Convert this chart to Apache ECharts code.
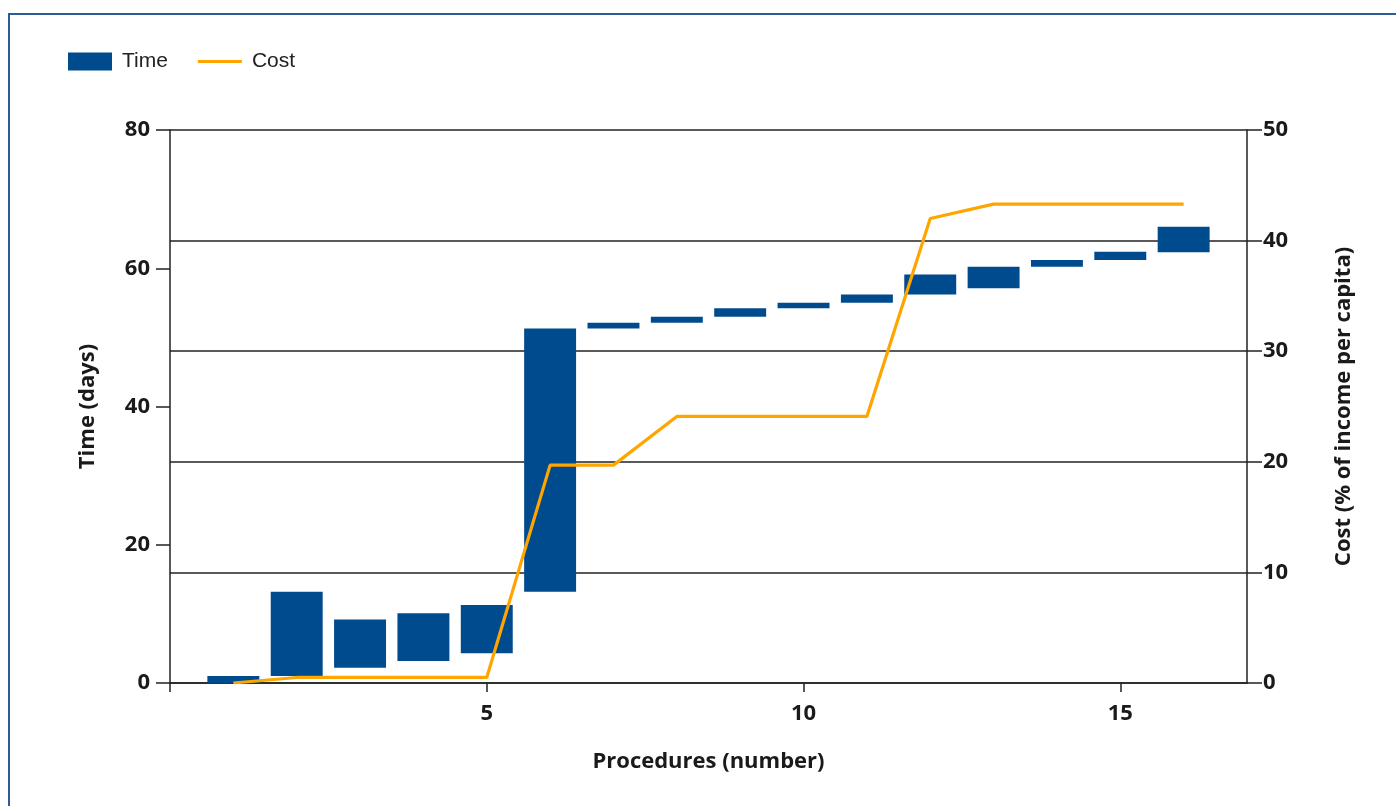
<!DOCTYPE html>
<html>
<head>
<meta charset="utf-8">
<script src="https://cdn.jsdelivr.net/npm/echarts@6/dist/echarts.min.js"></script>
<style>
  html, body { margin: 0; padding: 0; background: #fff; }
  #wrap { position: relative; width: 1396px; height: 806px; overflow: hidden; }
  #frame { position: absolute; left: 8px; top: 13px; width: 1500px; height: 900px;
           border-left: 2px solid #2a5c9c; border-top: 2px solid #2a5c9c; box-sizing: border-box; }
  #chart { position: absolute; left: 0; top: 0; width: 1396px; height: 806px; }
</style>
</head>
<body>
<div id="wrap">
  <div id="frame"></div>
  <div id="chart"></div>
</div>
<script>
const procedures = [1, 2, 3, 4, 5, 6, 7, 8, 9, 10, 11, 12, 13, 14, 15, 16];
const timeStart = [0, 1, 2.2, 3.2, 4.3, 13.2, 51.3, 52.1, 53.0, 54.2, 55.0, 56.2, 57.1, 60.2, 61.2, 62.3];
const timeEnd   = [1, 13.2, 9.2, 10.1, 11.3, 51.3, 52.1, 53.0, 54.2, 55.0, 56.2, 59.1, 60.2, 61.2, 62.4, 66.0];
const cost      = [0, 0.5, 0.5, 0.5, 0.5, 19.7, 19.7, 24.1, 24.1, 24.1, 24.1, 42.0, 43.3, 43.3, 43.3, 43.3];
const xTickValues = [0, 5, 10, 15];
const xLabelValues = [5, 10, 15];

const barColor = '#004b8d';
const lineColor = '#ffa500';
const axisColor = '#222';
const textColor = '#1a1a1a';
const labelFont = { fontFamily: 'Open Sans', fontWeight: 'bold', fontSize: 22, color: textColor };

const timeData = procedures.map((p, i) => [p, timeStart[i], timeEnd[i]]);
const costData = procedures.map((p, i) => [p, cost[i]]);

const chart = echarts.init(document.getElementById('chart'), null, { renderer: 'canvas' });
chart.setOption({
  animation: false,
  backgroundColor: 'transparent',
  legend: {
    left: 63, top: 46,
    itemWidth: 44, itemHeight: 18, itemGap: 30,
    textStyle: { fontFamily: 'Liberation Sans', fontSize: 21, color: '#222', padding: [0, 0, 0, 5] },
    data: [
      { name: 'Time', icon: 'rect' },
      { name: 'Cost', icon: 'path://M0,0 L44,0 L44,3 L0,3 Z', itemStyle: { color: lineColor } }
    ]
  },
  grid: { left: 170, right: 149, top: 130, bottom: 123, containLabel: false },
  xAxis: {
    type: 'value', min: 0, max: 17, interval: 5,
    name: 'Procedures (number)', nameLocation: 'middle', nameGap: 68,
    nameTextStyle: labelFont,
    axisLine: { show: true, lineStyle: { color: axisColor, width: 1.5 } },
    axisTick: { show: true, length: 9, customValues: xTickValues, lineStyle: { color: axisColor, width: 1.5 } },
    axisLabel: Object.assign({ margin: 20, customValues: xLabelValues }, labelFont),
    splitLine: { show: false }
  },
  yAxis: [
    {
      type: 'value', min: 0, max: 80, interval: 20, position: 'left',
      name: 'Time (days)', nameLocation: 'middle', nameGap: 71, nameRotate: 90,
      nameTextStyle: labelFont,
      axisLine: { show: true, onZero: false, lineStyle: { color: axisColor, width: 1.5 } },
      axisTick: { show: true, length: 14, lineStyle: { color: axisColor, width: 1.5 } },
      axisLabel: Object.assign({ margin: 20 }, labelFont),
      splitLine: { show: false }
    },
    {
      type: 'value', min: 0, max: 50, interval: 10, position: 'right',
      name: 'Cost (% of income per capita)', nameLocation: 'middle', nameGap: 86, nameRotate: 90,
      nameTextStyle: labelFont,
      axisLine: { show: true, onZero: false, lineStyle: { color: axisColor, width: 1.5 } },
      axisTick: { show: true, length: 15, lineStyle: { color: axisColor, width: 1.5 } },
      axisLabel: Object.assign({ margin: 16 }, labelFont),
      splitLine: { show: true, lineStyle: { color: axisColor, width: 1.5 } }
    }
  ],
  series: [
    {
      name: 'Time', type: 'custom', xAxisIndex: 0, yAxisIndex: 0,
      itemStyle: { color: barColor },
      encode: { x: 0, y: [1, 2] },
      data: timeData,
      z: 2,
      renderItem: function (params, api) {
        const x = api.value(0), lo = api.value(1), hi = api.value(2);
        const top = api.coord([x, hi]);
        const bot = api.coord([x, lo]);
        const w = api.size([0.82, 0])[0];
        return {
          type: 'rect',
          shape: { x: top[0] - w / 2, y: top[1], width: w, height: bot[1] - top[1] },
          style: { fill: barColor }
        };
      }
    },
    {
      name: 'Cost', type: 'line', xAxisIndex: 0, yAxisIndex: 1,
      data: costData, symbol: 'none', z: 5,
      itemStyle: { color: lineColor },
      lineStyle: { color: lineColor, width: 3.2 }
    }
  ]
});
</script>
</body>
</html>
